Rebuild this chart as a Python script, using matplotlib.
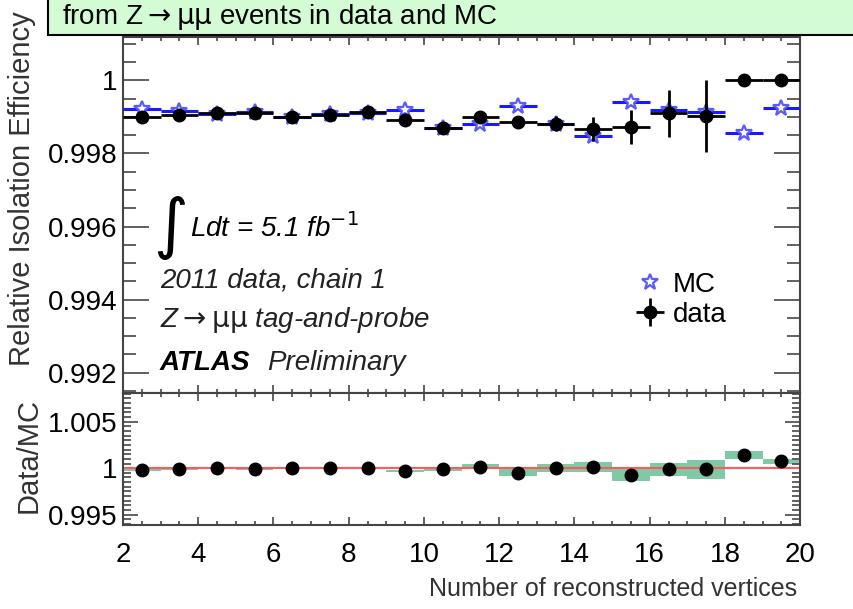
import numpy as np
import matplotlib
matplotlib.use("Agg")
import matplotlib.pyplot as plt
from matplotlib.patches import Rectangle
from matplotlib.ticker import MultipleLocator, FixedLocator

plt.rcParams['font.family'] = ['Liberation Sans', 'DejaVu Sans']
plt.rcParams['mathtext.fontset'] = 'dejavusans'

# bins of number of reconstructed vertices
nvtx = [2.5, 3.5, 4.5, 5.5, 6.5, 7.5, 8.5, 9.5, 10.5,
        11.5, 12.5, 13.5, 14.5, 15.5, 16.5, 17.5, 18.5, 19.5]

eff_data = [0.99901, 0.99906, 0.99910, 0.99910, 0.99900, 0.99905, 0.99913, 0.99891, 0.99870,
            0.99899, 0.99886, 0.99882, 0.99868, 0.99873, 0.99910, 0.99902, 1.00000, 1.00000]
err_data = [0.00004, 0.00004, 0.00004, 0.00005, 0.00005, 0.00006, 0.00007, 0.00008, 0.00010,
            0.00012, 0.00015, 0.00020, 0.00033, 0.00047, 0.00064, 0.00098, 0.00000, 0.00000]

eff_mc = [0.99923, 0.99916, 0.99907, 0.99914, 0.99900, 0.99909, 0.99910, 0.99919, 0.99870,
          0.99882, 0.99930, 0.99880, 0.99847, 0.99941, 0.99919, 0.99913, 0.99857, 0.99925]
err_mc = [0.00003, 0.00003, 0.00003, 0.00003, 0.00004, 0.00004, 0.00005, 0.00006, 0.00007,
          0.00008, 0.00009, 0.00010, 0.00012, 0.00012, 0.00010, 0.00010, 0.00013, 0.00010]

ratio = [0.99979, 0.99993, 1.00003, 0.99990, 0.99997, 1.00000, 1.00000, 0.99971, 0.99990,
         1.00014, 0.99950, 1.00003, 1.00014, 0.99925, 0.99986, 0.99986, 1.00140, 1.00075]
ratio_err = [0.00008, 0.00008, 0.00008, 0.00008, 0.00008, 0.00009, 0.00010, 0.00012, 0.00015,
             0.00027, 0.00036, 0.00040, 0.00054, 0.00065, 0.00075, 0.00100, 0.00043, 0.00029]

FS = 20
fig = plt.figure(figsize=(8.54, 6.09), dpi=100)
ax = fig.add_axes([0.144, 0.355, 0.793, 0.585])
axr = fig.add_axes([0.144, 0.138, 0.793, 0.217])

# main panel
ax.errorbar(nvtx, eff_mc, xerr=0.5, yerr=err_mc, fmt='none', ecolor='#1a1aff', elinewidth=2.2, zorder=3)
ax.plot(nvtx, eff_mc, ls='none', marker='*', ms=12, mfc='white', mec='#5a5aff', mew=1.6, zorder=4, label='MC')
ax.errorbar(nvtx, eff_data, xerr=0.5, yerr=err_data, fmt='o', color='black', ms=9,
            elinewidth=2.0, ecolor='black', zorder=5, label='data')

ax.set_xlim(2, 20)
ax.set_ylim(0.99145, 1.0012)
ax.yaxis.set_major_locator(FixedLocator([0.992, 0.994, 0.996, 0.998, 1.0]))
ax.set_yticklabels(['0.992', '0.994', '0.996', '0.998', '1'])
ax.yaxis.set_minor_locator(MultipleLocator(0.0005))
ax.xaxis.set_major_locator(MultipleLocator(2))
ax.xaxis.set_minor_locator(MultipleLocator(0.5))
ax.tick_params(which='both', direction='in', top=True, right=True, labelbottom=False,
               labelsize=FS, width=1.3, color='#555555', pad=4)
ax.tick_params(axis='y', which='major', length=19)
ax.tick_params(axis='y', which='minor', length=9.5)
ax.tick_params(axis='x', which='major', length=6)
ax.tick_params(axis='x', which='minor', length=3)
ax.set_ylabel('Relative Isolation Efficiency', fontsize=21, color='#333333')
ax.yaxis.set_label_coords(-0.128, 0.574)

ax.legend(loc='center left', bbox_to_anchor=(0.758, 0.261), frameon=False, fontsize=FS,
          handletextpad=0.3, borderaxespad=0, borderpad=0, labelspacing=0.15, handlelength=1.0)

ax.text(0.045, 0.463, r'$\int$', transform=ax.transAxes, fontsize=34, va='center', ha='left')
ax.text(0.099, 0.463, r'Ldt = 5.1 fb$^{\mathit{-1}}$', transform=ax.transAxes, fontsize=FS, style='italic', va='center')
ax.text(0.0547, 0.315, '2011 data, chain 1', transform=ax.transAxes, fontsize=FS, style='italic', va='center', color='#222222')
ax.text(0.0547, 0.205, r'Z$\rightarrow\mathrm{\mu\mu}$ tag-and-probe', transform=ax.transAxes, fontsize=FS, style='italic', va='center', color='#222222')
ax.text(0.0547, 0.084, 'ATLAS', transform=ax.transAxes, fontsize=FS, style='italic', weight='bold', va='center')
ax.text(0.213, 0.084, 'Preliminary', transform=ax.transAxes, fontsize=FS, style='italic', va='center', color='#222222')

# ratio panel
axr.axhline(1.0, color='#ff5a5a', lw=1.5, zorder=2)
for x, r, e in zip(nvtx, ratio, ratio_err):
    axr.add_patch(Rectangle((x - 0.5, r - e), 1.0, 2 * e, facecolor='#72c49c', edgecolor='none', alpha=0.9, zorder=1))
axr.plot(nvtx, ratio, 'o', color='black', ms=9, zorder=3)
axr.set_xlim(2, 20)
axr.set_ylim(0.9939, 1.0081)
axr.yaxis.set_major_locator(FixedLocator([0.995, 1.0, 1.005]))
axr.set_yticklabels(['0.995', '1', '1.005'])
axr.yaxis.set_minor_locator(MultipleLocator(0.0005))
axr.xaxis.set_major_locator(MultipleLocator(2))
axr.xaxis.set_minor_locator(MultipleLocator(0.5))
axr.tick_params(which='both', direction='in', top=True, right=True, labelsize=FS,
                width=1.3, color='#555555', pad=4)
axr.tick_params(axis='y', which='major', length=11)
axr.tick_params(axis='y', which='minor', length=5.5)
axr.tick_params(axis='x', which='major', length=6)
axr.tick_params(axis='x', which='minor', length=3)
axr.tick_params(axis='x', pad=12)
axr.set_ylabel('Data/MC', fontsize=21, color='#333333')
axr.yaxis.set_label_coords(-0.118, 0.523)
axr.set_xlabel('Number of reconstructed vertices', fontsize=18, color='#333333')
axr.xaxis.set_label_coords(0.9956, -0.394)
axr.xaxis.label.set_horizontalalignment('right')

for a in (ax, axr):
    for s in a.spines.values():
        s.set_linewidth(1.5)
        s.set_color('#444444')

# title box clipped at the top
fig.patches.append(Rectangle((48 / 854, 1 - 35 / 609), 1.0, 0.2, transform=fig.transFigure,
                             facecolor='#d4fcd4', edgecolor='black', lw=1.5, zorder=10))
fig.text(62 / 854, 1 - 24 / 609, r'from Z$\rightarrow\mathrm{\mu\mu}$ events in data and MC', fontsize=20,
         va='baseline', ha='left', zorder=11)

fig.savefig('out.png', dpi=100)
